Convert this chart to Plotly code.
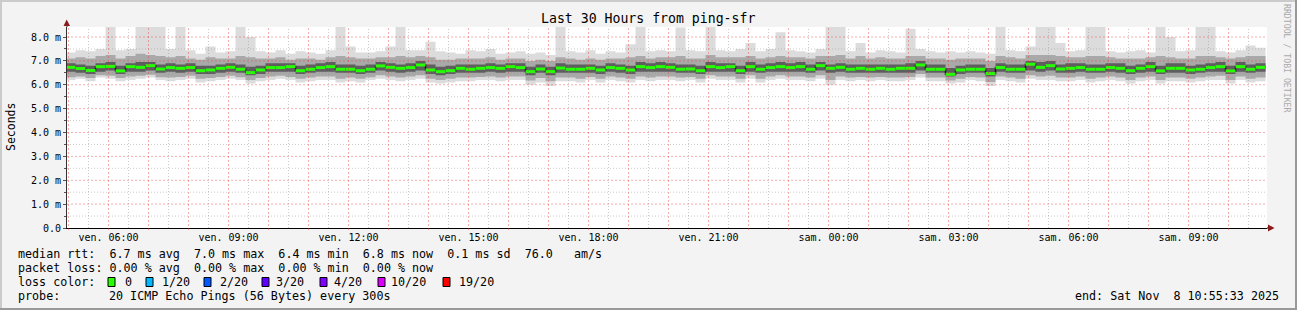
import pandas as pd
import plotly.graph_objects as go

START = "2025-11-07 04:55:33"
END = "2025-11-08 10:55:33"
VIEW_START = "2025-11-07 04:57:45"
VIEW_END = "2025-11-08 10:57:45"
STEP = "15min"

# median RTT per 15-min slot (ms)
median_ms = [
    6.73, 6.68, 6.60, 6.76, 6.77, 6.58, 6.76, 6.73, 6.80, 6.66, 6.72, 6.69, 6.72, 6.59, 6.62,
    6.69, 6.73, 6.65, 6.51, 6.62, 6.72, 6.72, 6.76, 6.59, 6.65, 6.72, 6.76, 6.65, 6.65, 6.59,
    6.65, 6.79, 6.73, 6.69, 6.72, 6.83, 6.62, 6.55, 6.59, 6.69, 6.65, 6.69, 6.72, 6.69, 6.76,
    6.72, 6.55, 6.66, 6.55, 6.70, 6.65, 6.65, 6.69, 6.62, 6.72, 6.69, 6.62, 6.76, 6.72, 6.76,
    6.73, 6.65, 6.66, 6.59, 6.76, 6.72, 6.76, 6.59, 6.76, 6.65, 6.72, 6.76, 6.72, 6.76, 6.65,
    6.80, 6.69, 6.73, 6.65, 6.69, 6.65, 6.69, 6.65, 6.69, 6.69, 6.83, 6.65, 6.65, 6.44, 6.62,
    6.65, 6.65, 6.47, 6.72, 6.65, 6.65, 6.86, 6.73, 6.80, 6.66, 6.69, 6.72, 6.65, 6.65, 6.72,
    6.69, 6.59, 6.69, 6.76, 6.58, 6.69, 6.69, 6.62, 6.65, 6.72, 6.76, 6.58, 6.76, 6.65, 6.73,
]
# slowest ping per slot (ms)
ping_max_ms = [
    7.35, 7.45, 7.40, 7.50, 8.45, 7.45, 7.50, 8.45, 8.45, 8.45, 7.50, 8.45, 7.45, 7.30, 7.60,
    7.35, 7.40, 8.45, 8.00, 7.40, 7.35, 7.45, 7.30, 7.40, 7.35, 7.30, 7.45, 8.45, 7.60, 7.35,
    7.35, 7.40, 7.60, 8.45, 7.45, 7.45, 7.80, 7.40, 7.35, 7.30, 7.45, 7.40, 7.50, 7.30, 7.35,
    7.40, 7.30, 7.35, 7.25, 8.45, 7.40, 7.35, 7.45, 7.30, 7.40, 7.35, 7.70, 8.45, 7.40, 7.45,
    7.40, 8.40, 7.45, 7.40, 8.45, 7.45, 7.40, 7.50, 7.75, 7.40, 7.50, 8.20, 7.45, 7.40, 7.35,
    7.50, 8.45, 8.45, 7.40, 7.75, 7.35, 7.45, 7.40, 7.35, 8.35, 7.50, 7.40, 7.35, 7.40, 7.35,
    7.40, 7.35, 7.30, 8.45, 7.45, 7.40, 7.60, 8.45, 8.45, 7.75, 7.40, 7.45, 8.45, 8.45, 7.40,
    7.35, 7.40, 7.45, 7.35, 8.45, 8.00, 7.40, 7.45, 8.45, 8.45, 7.40, 7.35, 7.45, 7.65, 7.55,
]
# 90th percentile ping per slot (ms)
ping_p90_ms = [
    7.10, 7.15, 7.10, 7.20, 7.25, 7.10, 7.20, 7.30, 7.25, 7.20, 7.15, 7.20, 7.10, 7.05, 7.15,
    7.10, 7.10, 7.20, 7.15, 7.10, 7.10, 7.15, 7.05, 7.10, 7.10, 7.05, 7.15, 7.20, 7.15, 7.10,
    7.10, 7.15, 7.15, 7.20, 7.15, 7.20, 7.15, 7.05, 7.05, 7.10, 7.10, 7.10, 7.15, 7.05, 7.10,
    7.10, 7.00, 7.05, 7.00, 7.15, 7.10, 7.05, 7.10, 7.05, 7.10, 7.10, 7.15, 7.20, 7.10, 7.15,
    7.15, 7.20, 7.10, 7.10, 7.25, 7.15, 7.15, 7.15, 7.20, 7.10, 7.15, 7.20, 7.15, 7.15, 7.10,
    7.20, 7.20, 7.25, 7.10, 7.20, 7.10, 7.15, 7.10, 7.10, 7.20, 7.20, 7.10, 7.10, 7.05, 7.10,
    7.10, 7.10, 7.00, 7.20, 7.15, 7.10, 7.25, 7.25, 7.25, 7.20, 7.15, 7.15, 7.20, 7.20, 7.15,
    7.10, 7.10, 7.10, 7.15, 7.20, 7.15, 7.10, 7.10, 7.20, 7.20, 7.15, 7.10, 7.15, 7.20, 7.20,
]
# 75th percentile ping per slot (ms)
ping_p75_ms = [
    6.90, 6.85, 6.80, 6.90, 6.95, 6.80, 6.90, 6.95, 6.95, 6.85, 6.90, 6.85, 6.90, 6.80, 6.80,
    6.85, 6.90, 6.85, 6.75, 6.80, 6.90, 6.90, 6.90, 6.80, 6.85, 6.90, 6.95, 6.85, 6.85, 6.80,
    6.85, 6.95, 6.90, 6.85, 6.90, 7.00, 6.85, 6.75, 6.80, 6.85, 6.85, 6.85, 6.90, 6.85, 6.90,
    6.90, 6.75, 6.85, 6.75, 6.90, 6.85, 6.85, 6.85, 6.80, 6.90, 6.85, 6.80, 6.95, 6.90, 6.95,
    6.90, 6.85, 6.85, 6.80, 6.95, 6.90, 6.90, 6.80, 6.95, 6.85, 6.90, 6.95, 6.90, 6.95, 6.85,
    6.95, 6.85, 6.90, 6.85, 6.85, 6.85, 6.85, 6.85, 6.85, 6.90, 7.00, 6.85, 6.85, 6.70, 6.80,
    6.85, 6.85, 6.70, 6.90, 6.85, 6.85, 7.00, 6.95, 7.00, 6.85, 6.90, 6.90, 6.85, 6.85, 6.90,
    6.90, 6.80, 6.85, 6.95, 6.80, 6.90, 6.90, 6.80, 6.85, 6.90, 6.95, 6.80, 6.95, 6.85, 6.90,
]
# 25th percentile ping per slot (ms)
ping_p25_ms = [
    6.55, 6.50, 6.45, 6.55, 6.60, 6.45, 6.55, 6.55, 6.60, 6.50, 6.55, 6.50, 6.55, 6.45, 6.45,
    6.50, 6.55, 6.50, 6.40, 6.45, 6.55, 6.55, 6.55, 6.45, 6.50, 6.55, 6.55, 6.50, 6.50, 6.45,
    6.50, 6.60, 6.55, 6.50, 6.55, 6.60, 6.45, 6.40, 6.45, 6.50, 6.50, 6.50, 6.55, 6.50, 6.55,
    6.55, 6.40, 6.50, 6.40, 6.50, 6.50, 6.50, 6.50, 6.45, 6.55, 6.50, 6.45, 6.55, 6.55, 6.55,
    6.55, 6.50, 6.50, 6.45, 6.55, 6.55, 6.55, 6.45, 6.55, 6.50, 6.55, 6.55, 6.55, 6.55, 6.50,
    6.60, 6.50, 6.55, 6.50, 6.50, 6.50, 6.50, 6.50, 6.50, 6.50, 6.60, 6.50, 6.50, 6.35, 6.45,
    6.50, 6.50, 6.35, 6.55, 6.50, 6.50, 6.60, 6.55, 6.60, 6.50, 6.50, 6.55, 6.50, 6.50, 6.55,
    6.50, 6.45, 6.50, 6.55, 6.45, 6.50, 6.50, 6.45, 6.50, 6.55, 6.55, 6.45, 6.55, 6.50, 6.55,
]
# 10th percentile ping per slot (ms)
ping_p10_ms = [
    6.32, 6.35, 6.28, 6.40, 6.38, 6.28, 6.35, 6.38, 6.42, 6.32, 6.30, 6.33, 6.38, 6.25, 6.28,
    6.33, 6.38, 6.32, 6.20, 6.28, 6.35, 6.38, 6.33, 6.25, 6.30, 6.35, 6.35, 6.25, 6.30, 6.25,
    6.32, 6.40, 6.35, 6.30, 6.35, 6.40, 6.25, 6.20, 6.25, 6.30, 6.30, 6.33, 6.35, 6.30, 6.35,
    6.35, 6.18, 6.28, 6.15, 6.30, 6.30, 6.25, 6.33, 6.25, 6.35, 6.30, 6.25, 6.35, 6.30, 6.35,
    6.35, 6.30, 6.33, 6.25, 6.40, 6.35, 6.35, 6.25, 6.40, 6.25, 6.35, 6.40, 6.35, 6.35, 6.30,
    6.40, 6.20, 6.35, 6.30, 6.33, 6.30, 6.33, 6.30, 6.30, 6.33, 6.45, 6.30, 6.30, 6.18, 6.25,
    6.33, 6.30, 6.12, 6.35, 6.30, 6.25, 6.40, 6.35, 6.38, 6.30, 6.30, 6.35, 6.25, 6.30, 6.35,
    6.30, 6.20, 6.30, 6.35, 6.20, 6.30, 6.30, 6.25, 6.30, 6.35, 6.38, 6.20, 6.35, 6.25, 6.30,
]
# fastest ping per slot (ms)
ping_min_ms = [
    6.20, 6.25, 6.15, 6.30, 6.25, 6.15, 6.20, 6.25, 6.30, 6.20, 6.15, 6.20, 6.25, 6.10, 6.15,
    6.20, 6.25, 6.20, 6.05, 6.15, 6.20, 6.25, 6.20, 6.10, 6.15, 6.20, 6.20, 6.10, 6.15, 6.10,
    6.20, 6.25, 6.20, 6.15, 6.20, 6.25, 6.10, 6.05, 6.10, 6.15, 6.15, 6.20, 6.20, 6.15, 6.20,
    6.20, 6.00, 6.10, 5.95, 6.15, 6.15, 6.10, 6.20, 6.10, 6.20, 6.15, 6.10, 6.20, 6.15, 6.20,
    6.20, 6.15, 6.20, 6.10, 6.25, 6.20, 6.20, 6.10, 6.25, 6.10, 6.20, 6.25, 6.20, 6.20, 6.15,
    6.25, 6.00, 6.20, 6.15, 6.20, 6.15, 6.20, 6.15, 6.15, 6.20, 6.30, 6.15, 6.15, 6.05, 6.10,
    6.20, 6.15, 5.95, 6.20, 6.15, 6.10, 6.25, 6.20, 6.20, 6.15, 6.15, 6.20, 6.10, 6.15, 6.20,
    6.15, 6.05, 6.15, 6.20, 6.05, 6.15, 6.15, 6.10, 6.15, 6.20, 6.20, 6.05, 6.20, 6.10, 6.15,
]

x_tick_labels = ["ven. 06:00", "ven. 09:00", "ven. 12:00", "ven. 15:00", "ven. 18:00",
                 "ven. 21:00", "sam. 00:00", "sam. 03:00", "sam. 06:00", "sam. 09:00"]
y_tick_values = [0, 1, 2, 3, 4, 5, 6, 7, 8]
y_tick_labels = ["0.0", "1.0 m", "2.0 m", "3.0 m", "4.0 m", "5.0 m", "6.0 m", "7.0 m", "8.0 m"]

loss_labels = ["0", "1/20", "2/20", "3/20", "4/20", "10/20", "19/20"]
loss_colors = ["#26ff00", "#00b8ff", "#0059ff", "#5e00ff", "#7e00ff", "#dd00ff", "#ff0000"]

line_rtt = "median rtt:  6.7 ms avg  7.0 ms max  6.4 ms min  6.8 ms now  0.1 ms sd  76.0   am/s"
line_loss = "packet loss: 0.00 % avg  0.00 % max  0.00 % min  0.00 % now"
line_probe = "20 ICMP Echo Pings (56 Bytes) every 300s"
end_text = "end: Sat Nov  8 10:55:33 2025"
title_text = "Last 30 Hours from ping-sfr"

# ---------------------------------------------------------------------------
W, H = 1297, 310
L, R, T, B = 67, 1267, 27, 228
YMAX = 8.42
MONO = "DejaVu Sans Mono"


def px(x):
    return (x - L) / (R - L)


def py(y):
    return (B - y) / (B - T)


def nb(s):
    return s.replace(" ", "\u00a0")


times = pd.date_range(START, periods=len(median_ms) + 1, freq=STEP)


def ext(a):
    return list(a) + [a[-1]]


fig = go.Figure()

bands = [
    (ping_min_ms, ping_max_ms, "#dcdcdc"),
    (ping_p10_ms, ping_p90_ms, "#a9a9a9"),
    (ping_p25_ms, ping_p75_ms, "#5e5e5e"),
]
for lo, hi, col in bands:
    fig.add_trace(go.Scatter(x=times, y=ext(lo), mode="lines", line=dict(width=0, shape="hv"),
                             hoverinfo="skip", showlegend=False))
    fig.add_trace(go.Scatter(x=times, y=ext(hi), mode="lines", line=dict(width=0, shape="hv"),
                             fill="tonexty", fillcolor=col, hoverinfo="skip", showlegend=False))

# dark connector line under the median
fig.add_trace(go.Scatter(x=times, y=ext(median_ms), mode="lines",
                         line=dict(width=1.5, shape="hv", color="#111111"),
                         hoverinfo="skip", showlegend=False))

# green median segments (horizontal only)
sx, sy = [], []
for i, v in enumerate(median_ms):
    sx += [times[i], times[i + 1], None]
    sy += [v, v, None]
fig.add_trace(go.Scatter(x=sx, y=sy, mode="lines", line=dict(width=3, color="#26ff00"),
                         hoverinfo="skip", showlegend=False, connectgaps=False))

hour_ticks = pd.date_range("2025-11-07 05:00", "2025-11-08 10:00", freq="1h")
label_times = pd.date_range("2025-11-07 06:00", periods=len(x_tick_labels), freq="3h")
label_map = dict(zip(label_times, x_tick_labels))
tick_text = [label_map.get(t, "") for t in hour_ticks]
half_ticks = pd.date_range("2025-11-07 05:30", "2025-11-08 10:30", freq="1h")

red_grid = "rgba(240,60,60,0.42)"
gray_grid = "rgba(140,140,140,0.45)"

fig.update_xaxes(
    type="date", range=[VIEW_START, VIEW_END], tickmode="array", tickvals=hour_ticks, ticktext=tick_text,
    showgrid=False, showline=True, linecolor="#000000", linewidth=1, ticks="", zeroline=False,
    tickfont=dict(family=MONO, size=10, color="#000000"), fixedrange=True,
)
fig.update_yaxes(
    range=[0, YMAX], tickmode="array", tickvals=y_tick_values, ticktext=y_tick_labels,
    showgrid=False,
    minor=dict(tickmode="array", tickvals=[v + 0.5 for v in y_tick_values], showgrid=False,
               ticks="outside", ticklen=2, tickcolor="#555555"),
    showline=True, linecolor="#333333", linewidth=1, ticks="outside", ticklen=3,
    tickcolor="#555555", zeroline=False,
    tickfont=dict(family=MONO, size=10, color="#000000"), fixedrange=True,
)

shapes = []
# grid (drawn above the smoke like rrdtool does)
for t in half_ticks:
    shapes.append(dict(type="line", xref="x", yref="paper", x0=t, x1=t, y0=0, y1=1, layer="above",
                       line=dict(color=gray_grid, width=1, dash="1px,2px")))
for v in y_tick_values:
    shapes.append(dict(type="line", xref="paper", yref="y", x0=0, x1=1, y0=v + 0.5, y1=v + 0.5,
                       layer="above", line=dict(color=gray_grid, width=1, dash="1px,2px")))
for t in hour_ticks:
    shapes.append(dict(type="line", xref="x", yref="paper", x0=t, x1=t, y0=py(230), y1=1,
                       layer="above", line=dict(color=red_grid, width=1, dash="2px,2px")))
for v in y_tick_values[1:]:
    shapes.append(dict(type="line", xref="paper", yref="y", x0=0, x1=1, y0=v, y1=v,
                       layer="above", line=dict(color=red_grid, width=1, dash="2px,2px")))

# outer frame
shapes.append(dict(type="line", xref="paper", yref="paper", x0=px(0), x1=px(W), y0=py(1), y1=py(1),
                   line=dict(color="#cbcbcb", width=2)))
shapes.append(dict(type="line", xref="paper", yref="paper", x0=px(1), x1=px(1), y0=py(0), y1=py(H),
                   line=dict(color="#cbcbcb", width=2)))
shapes.append(dict(type="line", xref="paper", yref="paper", x0=px(0), x1=px(W), y0=py(H - 1), y1=py(H - 1),
                   line=dict(color="#999999", width=2)))
shapes.append(dict(type="line", xref="paper", yref="paper", x0=px(W - 1), x1=px(W - 1), y0=py(0), y1=py(H),
                   line=dict(color="#999999", width=2)))
# axis extensions and arrows
shapes.append(dict(type="line", xref="paper", yref="paper", x0=0, x1=0, y0=1, y1=py(22),
                   line=dict(color="#333333", width=1)))
shapes.append(dict(type="line", xref="paper", yref="paper", x0=1, x1=px(1270), y0=0, y1=0,
                   line=dict(color="#000000", width=1)))
shapes.append(dict(type="path", xref="paper", yref="paper",
                   path=f"M {px(63.5)} {py(26)} L {px(70)} {py(26)} L {px(66.7)} {py(19.5)} Z",
                   fillcolor="#8b1a1a", line=dict(width=0)))
shapes.append(dict(type="path", xref="paper", yref="paper",
                   path=f"M {px(1268)} {py(224.5)} L {px(1268)} {py(231.5)} L {px(1274.5)} {py(228)} Z",
                   fillcolor="#8b1a1a", line=dict(width=0)))
# loss colour boxes
box_x = [108, 146, 204, 262, 320, 378, 443]
for bx, col in zip(box_x, loss_colors):
    shapes.append(dict(type="rect", xref="paper", yref="paper", x0=px(bx), x1=px(bx + 7),
                       y0=py(286.5), y1=py(277.5), fillcolor=col, line=dict(color="#000000", width=1)))

annotations = []


def add_text(text, x, y, size=11.7, xanchor="left", color="#000000", angle=0):
    annotations.append(dict(text=nb(text), x=px(x), y=py(y), xref="paper", yref="paper",
                            showarrow=False, xanchor=xanchor, yanchor="middle",
                            textangle=angle, font=dict(family=MONO, size=size, color=color)))


add_text(title_text, 648, 19, size=13.2, xanchor="center")
add_text("Seconds", 11, 127, size=11.5, xanchor="center", angle=-90)
add_text("RRDTOOL / TOBI OETIKER", 1287, 58, size=8.2, xanchor="center", color="#aaaaaa", angle=90)
add_text(line_rtt, 16, 254)
add_text(line_loss, 16, 268)
add_text("loss color:", 16, 282)
label_x = [123, 160, 218, 274, 332, 389, 457]
for lx, lab in zip(label_x, loss_labels):
    add_text(lab, lx, 282)
add_text("probe:", 16, 296)
add_text(line_probe, 107, 296)
add_text(end_text, 1281, 296, xanchor="right")

fig.update_layout(
    width=W, height=H, margin=dict(l=L, r=W - R, t=T, b=H - B, pad=0),
    paper_bgcolor="#f3f3f3", plot_bgcolor="#ffffff",
    shapes=shapes, annotations=annotations, showlegend=False,
    font=dict(family=MONO),
)

fig.write_html("out.html", config={"displayModeBar": False})
